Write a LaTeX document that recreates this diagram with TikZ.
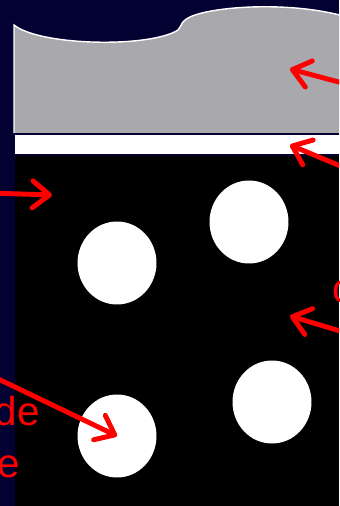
\documentclass[tikz,border=0pt]{standalone}
\usepackage{fontspec}
\setmainfont{Liberation Sans}
\usepackage{tikz}
\usetikzlibrary{shapes.geometric, arrows.meta, positioning}

\definecolor{slidebg}{RGB}{3,0,50}
\definecolor{crust}{RGB}{169,168,172}

\begin{document}
\begin{tikzpicture}[x=0.02cm, y=-0.02cm,
    blob/.style={ellipse, fill=white, inner sep=0pt, minimum width=1.58cm, minimum height=1.66cm},
    arr/.style={-{Straight Barb[length=3.4mm, width=5.4mm, round]}, red, line width=2.8pt, line cap=round},
    lbl/.style={text=red, inner sep=0pt, font=\fontsize{23}{28}\selectfont},
]
    \useasboundingbox (0,0) rectangle (339,506);
    \clip (0,0) rectangle (339,506);
    \fill[slidebg] (0,0) rectangle (339,506);

    % layers
    \fill[crust] (14,25) .. controls (40,46) and (150,48) .. (178,30)
        .. controls (182,26) and (180,20) .. (195,15)
        .. controls (225,5) and (300,2) .. (350,18) -- (350,133) -- (14,133) -- cycle;
    \draw[white, line width=0.8pt] (14,133) -- (14,25) .. controls (40,46) and (150,48) .. (178,30)
        .. controls (182,26) and (180,20) .. (195,15)
        .. controls (225,5) and (300,2) .. (350,18);
    \fill[white] (15,135) rectangle (339,154);
    \fill[black] (15,156) rectangle (339,506);

    % bubbles
    \node[blob] (b1) at (117,263) {};
    \node[blob] (b2) at (249,222) {};
    \node[blob] (b3) at (117,436) {};
    \node[blob] (b4) at (272,402) {};

    % labels (cut off by the frame)
    \node[lbl, anchor=base west] (tc) at (332,302) {c};
    \node[lbl, anchor=base east] (tde) at (40,425) {de};
    \node[lbl, anchor=base east] (te) at (20,477) {e};

    % arrows
    \coordinate (t1) at (350,85);   \coordinate (h1) at (290,69);
    \coordinate (t2) at (350,170);  \coordinate (h2) at (290,145);
    \coordinate (t3) at (-10,193);  \coordinate (h3) at (52,195);
    \coordinate (t4) at (350,334);  \coordinate (h4) at (290,316);
    \coordinate (t5) at (-10,375);

    \draw[arr] (t1) -- (h1);
    \draw[arr] (t2) -- (h2);
    \draw[arr] (t3) -- (h3);
    \draw[arr] (t4) -- (h4);
    \draw[arr] (t5) -- (b3.center);
\end{tikzpicture}
\end{document}
